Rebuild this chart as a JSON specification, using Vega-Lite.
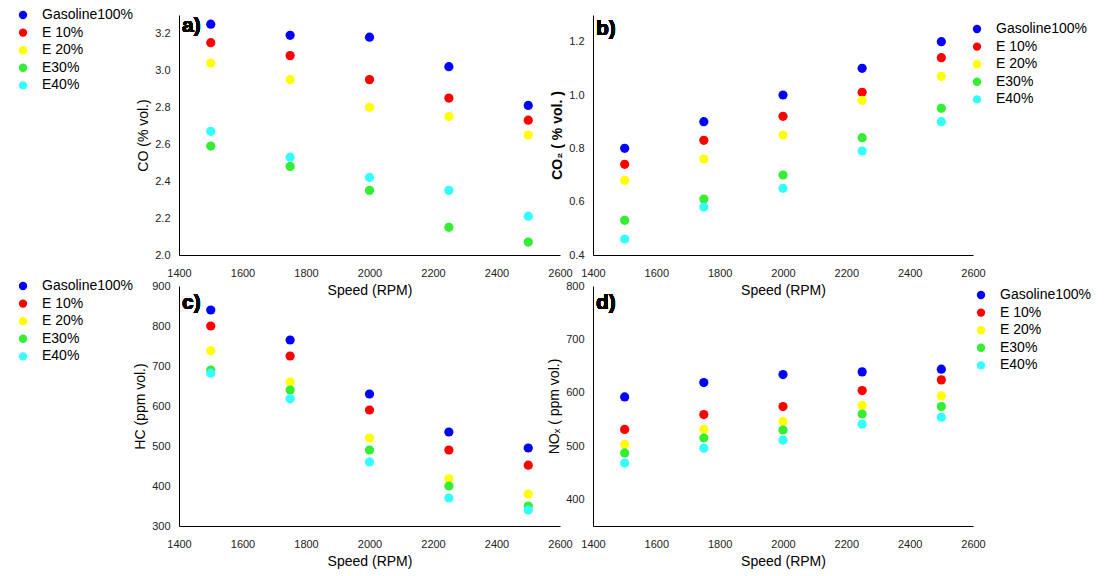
{
  "$schema": "https://vega.github.io/schema/vega-lite/v6.json",
  "padding": {"left": 16, "top": 8, "right": 5, "bottom": 5},
  "bounds": "flush",
  "columns": 2,
  "spacing": {"row": 31, "column": 33},
  "datasets": {
    "co": [
      {"fuel": "Gasoline100%", "speed": 1500, "value": 3.25},
      {"fuel": "Gasoline100%", "speed": 1750, "value": 3.19},
      {"fuel": "Gasoline100%", "speed": 2000, "value": 3.18},
      {"fuel": "Gasoline100%", "speed": 2250, "value": 3.02},
      {"fuel": "Gasoline100%", "speed": 2500, "value": 2.81},
      {"fuel": "E 10%", "speed": 1500, "value": 3.15},
      {"fuel": "E 10%", "speed": 1750, "value": 3.08},
      {"fuel": "E 10%", "speed": 2000, "value": 2.95},
      {"fuel": "E 10%", "speed": 2250, "value": 2.85},
      {"fuel": "E 10%", "speed": 2500, "value": 2.73},
      {"fuel": "E 20%", "speed": 1500, "value": 3.04},
      {"fuel": "E 20%", "speed": 1750, "value": 2.95},
      {"fuel": "E 20%", "speed": 2000, "value": 2.80},
      {"fuel": "E 20%", "speed": 2250, "value": 2.75},
      {"fuel": "E 20%", "speed": 2500, "value": 2.65},
      {"fuel": "E30%", "speed": 1500, "value": 2.59},
      {"fuel": "E30%", "speed": 1750, "value": 2.48},
      {"fuel": "E30%", "speed": 2000, "value": 2.35},
      {"fuel": "E30%", "speed": 2250, "value": 2.15},
      {"fuel": "E30%", "speed": 2500, "value": 2.07},
      {"fuel": "E40%", "speed": 1500, "value": 2.67},
      {"fuel": "E40%", "speed": 1750, "value": 2.53},
      {"fuel": "E40%", "speed": 2000, "value": 2.42},
      {"fuel": "E40%", "speed": 2250, "value": 2.35},
      {"fuel": "E40%", "speed": 2500, "value": 2.21}
    ],
    "co2": [
      {"fuel": "Gasoline100%", "speed": 1500, "value": 0.80},
      {"fuel": "Gasoline100%", "speed": 1750, "value": 0.90},
      {"fuel": "Gasoline100%", "speed": 2000, "value": 1.00},
      {"fuel": "Gasoline100%", "speed": 2250, "value": 1.10},
      {"fuel": "Gasoline100%", "speed": 2500, "value": 1.20},
      {"fuel": "E 10%", "speed": 1500, "value": 0.74},
      {"fuel": "E 10%", "speed": 1750, "value": 0.83},
      {"fuel": "E 10%", "speed": 2000, "value": 0.92},
      {"fuel": "E 10%", "speed": 2250, "value": 1.01},
      {"fuel": "E 10%", "speed": 2500, "value": 1.14},
      {"fuel": "E 20%", "speed": 1500, "value": 0.68},
      {"fuel": "E 20%", "speed": 1750, "value": 0.76},
      {"fuel": "E 20%", "speed": 2000, "value": 0.85},
      {"fuel": "E 20%", "speed": 2250, "value": 0.98},
      {"fuel": "E 20%", "speed": 2500, "value": 1.07},
      {"fuel": "E30%", "speed": 1500, "value": 0.53},
      {"fuel": "E30%", "speed": 1750, "value": 0.61},
      {"fuel": "E30%", "speed": 2000, "value": 0.70},
      {"fuel": "E30%", "speed": 2250, "value": 0.84},
      {"fuel": "E30%", "speed": 2500, "value": 0.95},
      {"fuel": "E40%", "speed": 1500, "value": 0.46},
      {"fuel": "E40%", "speed": 1750, "value": 0.58},
      {"fuel": "E40%", "speed": 2000, "value": 0.65},
      {"fuel": "E40%", "speed": 2250, "value": 0.79},
      {"fuel": "E40%", "speed": 2500, "value": 0.90}
    ],
    "hc": [
      {"fuel": "Gasoline100%", "speed": 1500, "value": 840},
      {"fuel": "Gasoline100%", "speed": 1750, "value": 765},
      {"fuel": "Gasoline100%", "speed": 2000, "value": 630},
      {"fuel": "Gasoline100%", "speed": 2250, "value": 535},
      {"fuel": "Gasoline100%", "speed": 2500, "value": 495},
      {"fuel": "E 10%", "speed": 1500, "value": 800},
      {"fuel": "E 10%", "speed": 1750, "value": 725},
      {"fuel": "E 10%", "speed": 2000, "value": 590},
      {"fuel": "E 10%", "speed": 2250, "value": 490},
      {"fuel": "E 10%", "speed": 2500, "value": 452},
      {"fuel": "E 20%", "speed": 1500, "value": 738},
      {"fuel": "E 20%", "speed": 1750, "value": 660},
      {"fuel": "E 20%", "speed": 2000, "value": 520},
      {"fuel": "E 20%", "speed": 2250, "value": 418},
      {"fuel": "E 20%", "speed": 2500, "value": 380},
      {"fuel": "E30%", "speed": 1500, "value": 690},
      {"fuel": "E30%", "speed": 1750, "value": 640},
      {"fuel": "E30%", "speed": 2000, "value": 490},
      {"fuel": "E30%", "speed": 2250, "value": 400},
      {"fuel": "E30%", "speed": 2500, "value": 350},
      {"fuel": "E40%", "speed": 1500, "value": 682},
      {"fuel": "E40%", "speed": 1750, "value": 618},
      {"fuel": "E40%", "speed": 2000, "value": 460},
      {"fuel": "E40%", "speed": 2250, "value": 370},
      {"fuel": "E40%", "speed": 2500, "value": 340}
    ],
    "nox": [
      {"fuel": "Gasoline100%", "speed": 1500, "value": 592},
      {"fuel": "Gasoline100%", "speed": 1750, "value": 619},
      {"fuel": "Gasoline100%", "speed": 2000, "value": 634},
      {"fuel": "Gasoline100%", "speed": 2250, "value": 639},
      {"fuel": "Gasoline100%", "speed": 2500, "value": 644},
      {"fuel": "E 10%", "speed": 1500, "value": 531},
      {"fuel": "E 10%", "speed": 1750, "value": 559},
      {"fuel": "E 10%", "speed": 2000, "value": 574},
      {"fuel": "E 10%", "speed": 2250, "value": 604},
      {"fuel": "E 10%", "speed": 2500, "value": 624},
      {"fuel": "E 20%", "speed": 1500, "value": 503},
      {"fuel": "E 20%", "speed": 1750, "value": 531},
      {"fuel": "E 20%", "speed": 2000, "value": 546},
      {"fuel": "E 20%", "speed": 2250, "value": 576},
      {"fuel": "E 20%", "speed": 2500, "value": 594},
      {"fuel": "E30%", "speed": 1500, "value": 487},
      {"fuel": "E30%", "speed": 1750, "value": 515},
      {"fuel": "E30%", "speed": 2000, "value": 530},
      {"fuel": "E30%", "speed": 2250, "value": 560},
      {"fuel": "E30%", "speed": 2500, "value": 574},
      {"fuel": "E40%", "speed": 1500, "value": 468},
      {"fuel": "E40%", "speed": 1750, "value": 496},
      {"fuel": "E40%", "speed": 2000, "value": 511},
      {"fuel": "E40%", "speed": 2250, "value": 541},
      {"fuel": "E40%", "speed": 2500, "value": 554}
    ]
  },
  "concat": [
    {
      "width": 381, "height": 240,
      "data": {"name": "co"},
      "layer": [
        {
          "mark": {"type": "point", "filled": true, "size": 85, "opacity": 1},
          "encoding": {
            "x": {"field": "speed", "type": "quantitative", "title": "Speed (RPM)", "scale": {"domain": [1400, 2600], "nice": false, "zero": false}, "axis": {"values": [1400, 1600, 1800, 2000, 2200, 2400, 2600], "format": "d", "labelOverlap": false}},
            "y": {"field": "value", "type": "quantitative", "title": "CO (% vol.)", "scale": {"domain": [2.0, 3.3], "nice": false, "zero": false}, "axis": {"values": [2.0, 2.2, 2.4, 2.6, 2.8, 3.0, 3.2], "format": ".1f", "labelOverlap": false}},
            "color": {"field": "fuel", "type": "nominal", "scale": {"domain": ["Gasoline100%", "E 10%", "E 20%", "E30%", "E40%"], "range": ["#0000FF", "#FF0000", "#FFFF00", "#33EE33", "#33FFFF"]}, "legend": {"legendX": -163, "legendY": -7}}
          }
        },
        {
          "mark": {"type": "text", "text": "a)", "align": "left", "baseline": "top", "fontSize": 21, "fontWeight": "bold", "dx": 3, "dy": 0},
          "encoding": {
            "x": {"datum": 1400, "type": "quantitative", "title": "Speed (RPM)", "axis": {"values": [1400, 1600, 1800, 2000, 2200, 2400, 2600], "format": "d", "labelOverlap": false}},
            "y": {"datum": 3.3, "type": "quantitative", "title": "CO (% vol.)", "axis": {"values": [2.0, 2.2, 2.4, 2.6, 2.8, 3.0, 3.2], "format": ".1f", "labelOverlap": false}}
          }
        }
      ]
    },
    {
      "width": 380, "height": 240,
      "data": {"name": "co2"},
      "layer": [
        {
          "mark": {"type": "point", "filled": true, "size": 85, "opacity": 1},
          "encoding": {
            "x": {"field": "speed", "type": "quantitative", "title": "Speed (RPM)", "scale": {"domain": [1400, 2600], "nice": false, "zero": false}, "axis": {"values": [1400, 1600, 1800, 2000, 2200, 2400, 2600], "format": "d", "labelOverlap": false}},
            "y": {"field": "value", "type": "quantitative", "title": "CO₂ ( % vol. )", "scale": {"domain": [0.4, 1.3], "nice": false, "zero": false}, "axis": {"values": [0.4, 0.6, 0.8, 1.0, 1.2], "format": ".1f", "titleFontWeight": "bold", "labelOverlap": false}},
            "color": {"field": "fuel", "type": "nominal", "scale": {"domain": ["Gasoline100%", "E 10%", "E 20%", "E30%", "E40%"], "range": ["#0000FF", "#FF0000", "#FFFF00", "#33EE33", "#33FFFF"]}, "legend": {"legendX": 377, "legendY": 7}}
          }
        },
        {
          "mark": {"type": "text", "text": "b)", "align": "left", "baseline": "top", "fontSize": 21, "fontWeight": "bold", "dx": 3, "dy": 3},
          "encoding": {
            "x": {"datum": 1400, "type": "quantitative", "title": "Speed (RPM)", "axis": {"values": [1400, 1600, 1800, 2000, 2200, 2400, 2600], "format": "d", "labelOverlap": false}},
            "y": {"datum": 1.3, "type": "quantitative", "title": "CO₂ ( % vol. )", "axis": {"values": [0.4, 0.6, 0.8, 1.0, 1.2], "format": ".1f", "titleFontWeight": "bold", "labelOverlap": false}}
          }
        }
      ]
    },
    {
      "width": 381, "height": 240,
      "data": {"name": "hc"},
      "layer": [
        {
          "mark": {"type": "point", "filled": true, "size": 85, "opacity": 1},
          "encoding": {
            "x": {"field": "speed", "type": "quantitative", "title": "Speed (RPM)", "scale": {"domain": [1400, 2600], "nice": false, "zero": false}, "axis": {"values": [1400, 1600, 1800, 2000, 2200, 2400, 2600], "format": "d", "labelOverlap": false}},
            "y": {"field": "value", "type": "quantitative", "title": "HC (ppm vol.)", "scale": {"domain": [300, 900], "nice": false, "zero": false}, "axis": {"values": [300, 400, 500, 600, 700, 800, 900], "format": "d", "labelOverlap": false}},
            "color": {"field": "fuel", "type": "nominal", "scale": {"domain": ["Gasoline100%", "E 10%", "E 20%", "E30%", "E40%"], "range": ["#0000FF", "#FF0000", "#FFFF00", "#33EE33", "#33FFFF"]}, "legend": {"legendX": -163, "legendY": -7}}
          }
        },
        {
          "mark": {"type": "text", "text": "c)", "align": "left", "baseline": "top", "fontSize": 21, "fontWeight": "bold", "dx": 3, "dy": 6},
          "encoding": {
            "x": {"datum": 1400, "type": "quantitative", "title": "Speed (RPM)", "axis": {"values": [1400, 1600, 1800, 2000, 2200, 2400, 2600], "format": "d", "labelOverlap": false}},
            "y": {"datum": 900, "type": "quantitative", "title": "HC (ppm vol.)", "axis": {"values": [300, 400, 500, 600, 700, 800, 900], "format": "d", "labelOverlap": false}}
          }
        }
      ]
    },
    {
      "width": 380, "height": 240,
      "data": {"name": "nox"},
      "layer": [
        {
          "mark": {"type": "point", "filled": true, "size": 85, "opacity": 1},
          "encoding": {
            "x": {"field": "speed", "type": "quantitative", "title": "Speed (RPM)", "scale": {"domain": [1400, 2600], "nice": false, "zero": false}, "axis": {"values": [1400, 1600, 1800, 2000, 2200, 2400, 2600], "format": "d", "labelOverlap": false}},
            "y": {"field": "value", "type": "quantitative", "title": "NOₓ ( ppm vol.)", "scale": {"domain": [350, 800], "nice": false, "zero": false}, "axis": {"values": [400, 500, 600, 700, 800], "format": "d", "labelOverlap": false}},
            "color": {"field": "fuel", "type": "nominal", "scale": {"domain": ["Gasoline100%", "E 10%", "E 20%", "E30%", "E40%"], "range": ["#0000FF", "#FF0000", "#FFFF00", "#33EE33", "#33FFFF"]}, "legend": {"legendX": 381, "legendY": 2}}
          }
        },
        {
          "mark": {"type": "text", "text": "d)", "align": "left", "baseline": "top", "fontSize": 21, "fontWeight": "bold", "dx": 3, "dy": 6},
          "encoding": {
            "x": {"datum": 1400, "type": "quantitative", "title": "Speed (RPM)", "axis": {"values": [1400, 1600, 1800, 2000, 2200, 2400, 2600], "format": "d", "labelOverlap": false}},
            "y": {"datum": 800, "type": "quantitative", "title": "NOₓ ( ppm vol.)", "axis": {"values": [400, 500, 600, 700, 800], "format": "d", "labelOverlap": false}}
          }
        }
      ]
    }
  ],
  "resolve": {
    "scale": {"x": "independent", "y": "independent", "color": "independent"},
    "axis": {"x": "independent", "y": "independent"},
    "legend": {"color": "independent"}
  },
  "config": {
    "font": "Liberation Sans",
    "background": "white",
    "view": {"stroke": null},
    "axis": {
      "grid": false,
      "ticks": false,
      "labelOverlap": false,
      "labelFlush": false,
      "domainColor": "black",
      "domainWidth": 1,
      "labelFont": "Liberation Sans",
      "labelFontSize": 11,
      "labelColor": "#222222",
      "titleFont": "Liberation Sans",
      "titleFontSize": 14,
      "titleFontWeight": "normal",
      "titleColor": "black"
    },
    "axisX": {"labelPadding": 12, "titlePadding": 5},
    "axisY": {"labelPadding": 9, "titlePadding": 4},
    "legend": {
      "orient": "none",
      "title": null,
      "padding": 0,
      "labelFont": "Liberation Sans",
      "labelFontSize": 14,
      "labelColor": "black",
      "labelOffset": 12,
      "symbolType": "circle",
      "symbolSize": 70,
      "symbolStrokeWidth": 0,
      "rowPadding": 3.6
    },
    "text": {"font": "Liberation Sans", "color": "black"}
  }
}
